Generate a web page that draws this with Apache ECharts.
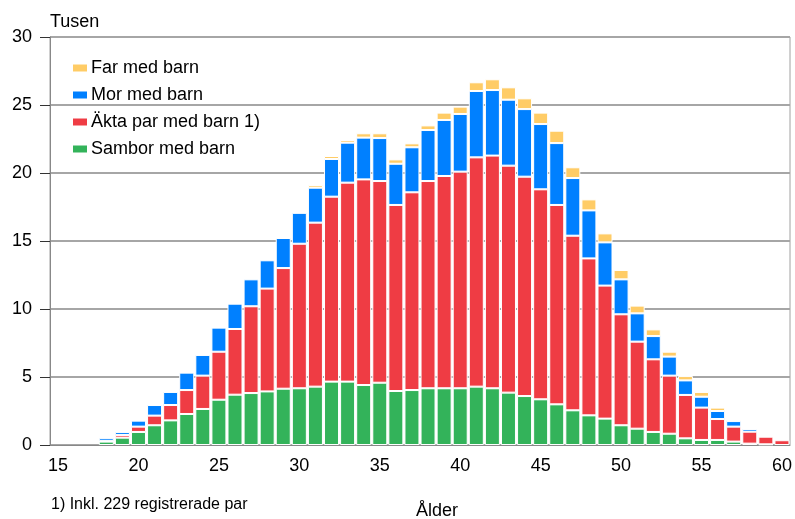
<!DOCTYPE html>
<html>
<head>
<meta charset="utf-8">
<script src="https://cdn.jsdelivr.net/npm/echarts@6/dist/echarts.min.js"></script>
<style>
  html, body { margin: 0; padding: 0; background: #fff; }
  #chart { width: 795px; height: 519px; }
</style>
</head>
<body>
<div id="chart"></div>
<script>
// ålder 15-60
const ages = []
for (let a = 15; a <= 60; a++) ages.push(String(a))

// tusental
const sambor = [0, 0, 0, 0.25, 0.54, 0.96, 1.45, 1.81, 2.28, 2.65, 3.33, 3.7, 3.82, 3.94, 4.14, 4.17,
  4.29, 4.66, 4.66, 4.41, 4.58, 3.97, 4.04, 4.17, 4.17, 4.17, 4.29, 4.17, 3.85, 3.6, 3.36,
  2.99, 2.55, 2.18, 1.94, 1.45, 1.2, 0.96, 0.83, 0.49, 0.37, 0.37, 0.25, 0.1, 0.05, 0]
const akta = [0, 0, 0, 0.05, 0.2, 0.39, 0.71, 1.13, 1.76, 2.45, 3.53, 4.83, 6.38, 7.56, 8.87, 10.63,
  12.06, 13.6, 14.63, 15.12, 14.83, 13.68, 14.54, 15.24, 15.61, 15.93, 16.86, 17.11, 16.69, 16.13, 15.44,
  14.66, 12.84, 11.54, 9.78, 8.16, 6.4, 5.34, 4.27, 3.19, 2.38, 1.54, 1.1, 0.88, 0.56, 0.35]
const mor = [0, 0, 0, 0.2, 0.22, 0.44, 0.78, 0.96, 1.28, 1.52, 1.77, 1.86, 1.98, 2.08, 2.21, 2.27,
  2.57, 2.77, 2.94, 3.07, 3.16, 3.03, 3.31, 3.75, 4.12, 4.24, 4.88, 4.82, 4.85, 4.97, 4.8,
  4.55, 4.24, 3.53, 3.18, 2.57, 2.08, 1.71, 1.4, 1.07, 0.8, 0.59, 0.41, 0.2, 0, 0]
const far = [0, 0, 0, 0, 0, 0, 0, 0, 0, 0, 0, 0, 0, 0, 0.03, 0.05,
  0.2, 0.22, 0.2, 0.32, 0.35, 0.32, 0.29, 0.34, 0.54, 0.54, 0.64, 0.79, 0.91, 0.79, 0.84,
  0.91, 0.79, 0.81, 0.66, 0.69, 0.57, 0.49, 0.36, 0.32, 0.35, 0.25, 0.1, 0.03, 0, 0]

const yTicks = [0, 5, 10, 15, 20, 25, 30]

const font = "'Liberation Sans', Arial, sans-serif"

const chart = echarts.init(document.getElementById('chart'))

const makeSeries = (name, data, color) => ({
  name,
  type: 'bar',
  stack: 'total',
  barWidth: 15,
  data: data.map(v => (v ? v : '-')),
  itemStyle: {
    color,
    borderColor: '#fff',
    borderWidth: 1
  }
})

const option = {
  animation: false,
  backgroundColor: '#fff',
  textStyle: { fontFamily: font },
  grid: {
    left: 50,
    right: 5,
    top: 37,
    bottom: 74,
    show: true,
    borderColor: '#a0a0a0',
    borderWidth: 1
  },
  legend: {
    orient: 'vertical',
    left: 71,
    top: 59,
    padding: 0,
    itemWidth: 16,
    itemHeight: 9,
    itemGap: 9,
    icon: 'rect',
    data: ['Far med barn', 'Mor med barn', 'Äkta par med barn 1)', 'Sambor med barn'],
    textStyle: { fontSize: 18, color: '#000', fontFamily: font, padding: [0, 0, 0, -2] }
  },
  xAxis: {
    type: 'category',
    data: ages,
    axisLine: { lineStyle: { color: '#888', width: 1 } },
    axisTick: {
      interval: 4,
      alignWithLabel: true,
      length: 7,
      lineStyle: { color: '#333' }
    },
    axisLabel: {
      interval: 4,
      margin: 12,
      fontSize: 18,
      color: '#000',
      fontFamily: font
    }
  },
  yAxis: {
    type: 'value',
    min: yTicks[0],
    max: yTicks[yTicks.length - 1],
    interval: 5,
    name: 'Tusen',
    nameLocation: 'end',
    nameGap: 6,
    nameTextStyle: { align: 'left', fontSize: 18, color: '#000', fontFamily: font },
    axisLine: { show: true, lineStyle: { color: '#888', width: 1 } },
    axisTick: { show: true, length: 10, lineStyle: { color: '#333' } },
    axisLabel: { margin: 18, fontSize: 18, color: '#000', fontFamily: font },
    splitLine: { lineStyle: { color: '#a6a6a6', width: 2 } }
  },
  graphic: [
    {
      type: 'text',
      left: 51,
      top: 497,
      style: { text: '1) Inkl. 229 registrerade par', fill: '#000', font: "16px 'Liberation Sans', Arial, sans-serif" }
    },
    {
      type: 'text',
      left: 416,
      top: 502,
      style: { text: 'Ålder', fill: '#000', font: "18px 'Liberation Sans', Arial, sans-serif" }
    }
  ],
  series: [
    makeSeries('Sambor med barn', sambor, '#33b35a'),
    makeSeries('Äkta par med barn 1)', akta, '#ef3c44'),
    makeSeries('Mor med barn', mor, '#0080ff'),
    makeSeries('Far med barn', far, '#ffcc66')
  ]
}

chart.setOption(option)
</script>
</body>
</html>
